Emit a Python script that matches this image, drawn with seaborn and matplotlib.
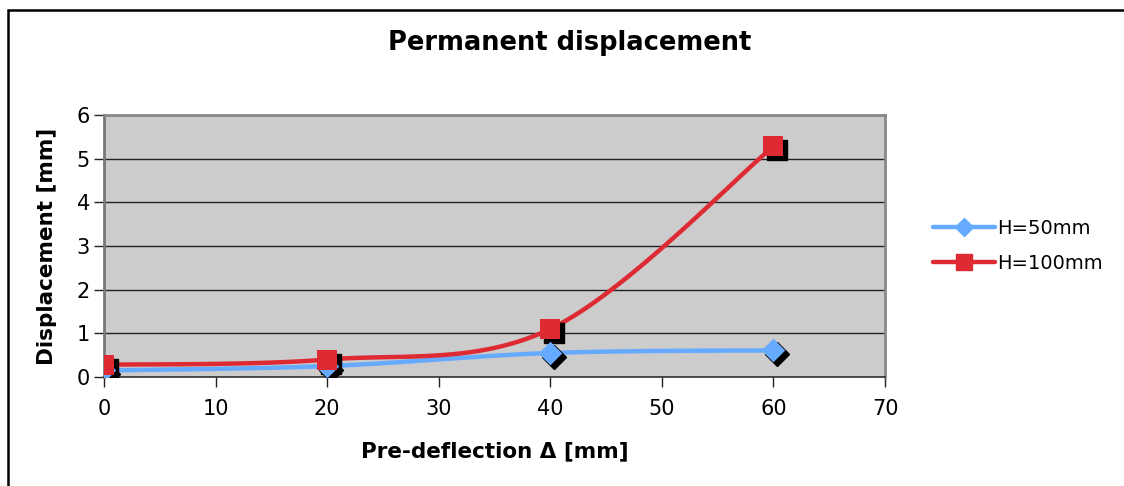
import numpy as np
import pandas as pd
import seaborn as sns
import matplotlib
matplotlib.use("Agg")
import matplotlib.pyplot as plt
import matplotlib.transforms as mtransforms
from matplotlib.lines import Line2D
from matplotlib.patches import Rectangle

# ---- data ----
pre_deflection = [0, 20, 40, 60]
h50 = [0.15, 0.25, 0.55, 0.61]
h100 = [0.28, 0.40, 1.10, 5.28]
series_names = ["H=50mm", "H=100mm"]
x_ticks = [0, 10, 20, 30, 40, 50, 60, 70]
y_ticks = [0, 1, 2, 3, 4, 5, 6]

colors = {"H=50mm": "#66AAFF", "H=100mm": "#DD2A33"}
markers = {"H=50mm": "D", "H=100mm": "s"}
msizes = {"H=50mm": 12, "H=100mm": 15}

sns.set_theme(style="white")
plt.rcParams["font.family"] = ["DejaVu Sans"]
plt.rcParams["text.color"] = "black"
plt.rcParams["axes.labelcolor"] = "black"

fig = plt.figure(figsize=(11.24, 4.86), dpi=100)
ax = fig.add_axes([104 / 1124, 1 - 377 / 486, (885 - 104) / 1124, (377 - 115) / 486])
ax.set_facecolor("#CCCCCC")


def smooth(xs, ys, n=40):
    # Excel-style smoothed line (Catmull-Rom Bezier through the data points)
    P = np.column_stack([xs, ys]).astype(float)
    out = []
    for i in range(len(P) - 1):
        p0 = P[i - 1] if i > 0 else P[i]
        p1 = P[i]
        p2 = P[i + 1]
        p3 = P[i + 2] if i + 2 < len(P) else P[i + 1]
        c1 = p1 + (p2 - p0) / 6
        c2 = p2 - (p3 - p1) / 6
        t = np.linspace(0, 1, n)[:, None]
        seg = (1 - t) ** 3 * p1 + 3 * (1 - t) ** 2 * t * c1 + 3 * (1 - t) * t ** 2 * c2 + t ** 3 * p2
        out.append(seg if i == 0 else seg[1:])
    return np.vstack(out)


df = pd.DataFrame({
    "x": pre_deflection * 2,
    "y": h50 + h100,
    "series": [series_names[0]] * 4 + [series_names[1]] * 4,
})

shadow = mtransforms.offset_copy(ax.transData, fig=fig, x=4, y=-4, units="dots")

for name, vals in zip(series_names, [h50, h100]):
    curve = smooth(pre_deflection, vals)
    ax.plot(curve[:, 0], curve[:, 1], color=colors[name], lw=3.2, zorder=3,
            solid_capstyle="round")

for name in series_names:
    sub = df[df.series == name]
    ax.plot(sub.x, sub.y, ls="none", marker=markers[name], ms=msizes[name],
            color="black", mec="black", transform=shadow, zorder=4)
    sns.scatterplot(data=sub, x="x", y="y", marker=markers[name], s=msizes[name] ** 2,
                    color=colors[name], edgecolor=colors[name], linewidth=0,
                    ax=ax, zorder=5, legend=False)

ax.set_xlim(0, 70)
ax.set_ylim(0, 6)
ax.set_xticks(x_ticks)
ax.set_yticks(y_ticks)
ax.set_xticklabels([str(v) for v in x_ticks], fontsize=15)
ax.set_yticklabels([str(v) for v in y_ticks], fontsize=15)
ax.yaxis.grid(True, color="#222222", lw=1.0)
ax.xaxis.grid(False)
ax.set_axisbelow(True)
for s in ["top", "right"]:
    ax.spines[s].set_color("#888888")
    ax.spines[s].set_linewidth(2)
ax.spines["left"].set_color("#777777")
ax.spines["left"].set_linewidth(2)
ax.spines["bottom"].set_color("#333333")
ax.spines["bottom"].set_linewidth(1.2)
ax.tick_params(axis="both", which="both", direction="out", length=7, width=1,
               color="#222222", labelcolor="black", left=True, bottom=True)
ax.tick_params(axis="x", pad=9)
ax.tick_params(axis="y", pad=3)

ax.set_xlabel("Pre-deflection \u0394 [mm]", fontsize=15.5, fontweight="bold", labelpad=16)
ax.set_ylabel("Displacement [mm]", fontsize=15.5, fontweight="bold", labelpad=14)
fig.text(570 / 1124, 1 - 43 / 486, "Permanent displacement", ha="center", va="center",
         fontsize=18.5, fontweight="bold")

handles = [Line2D([0], [0], color=colors[n], lw=3.2, marker=markers[n],
                  ms=msizes[n] * 0.8, solid_capstyle="round") for n in series_names]
fig.legend(handles, series_names, loc="center left", bbox_to_anchor=(915 / 1124, 1 - 246 / 486),
           frameon=False, fontsize=14, handlelength=3.2, handletextpad=0.1, labelspacing=0.85)

fig.patches.append(Rectangle((7.5 / 1124, -0.1), 1.2, (1 - 10 / 486) + 0.1,
                             transform=fig.transFigure, fill=False, ec="black", lw=1.8))

fig.savefig("out.png", dpi=100)
